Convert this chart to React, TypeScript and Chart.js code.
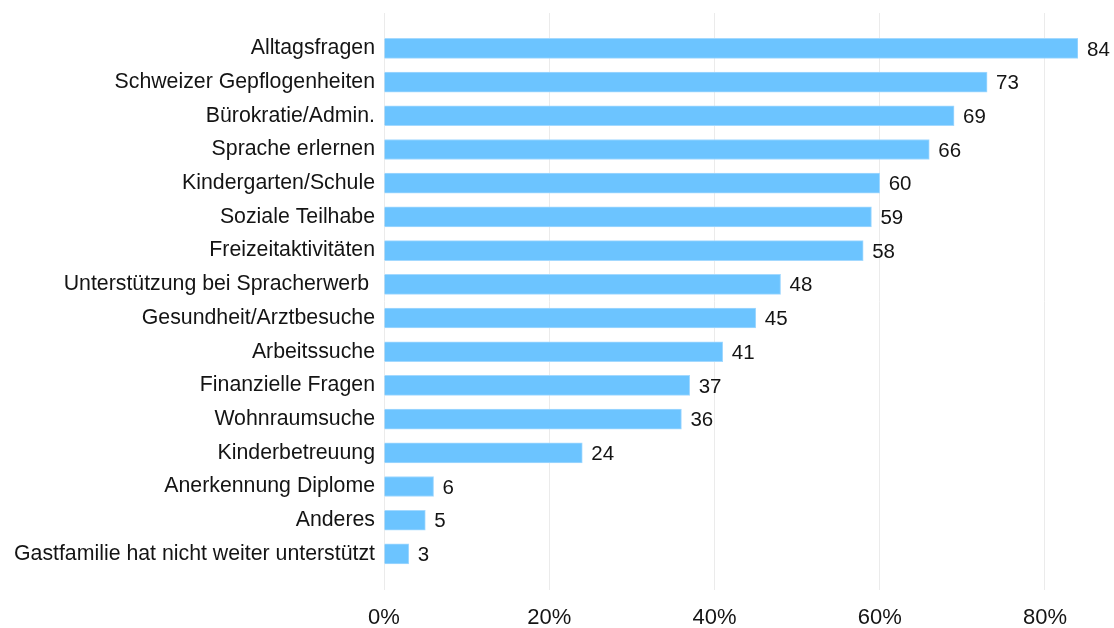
import React, { useEffect, useRef } from "react";
import { Chart, registerables } from "chart.js";

Chart.register(...registerables);

const categories = [
  "Alltagsfragen",
  "Schweizer Gepflogenheiten",
  "Bürokratie/Admin.",
  "Sprache erlernen",
  "Kindergarten/Schule",
  "Soziale Teilhabe",
  "Freizeitaktivitäten",
  "Unterstützung bei Spracherwerb ",
  "Gesundheit/Arztbesuche",
  "Arbeitssuche",
  "Finanzielle Fragen",
  "Wohnraumsuche",
  "Kinderbetreuung",
  "Anerkennung Diplome",
  "Anderes",
  "Gastfamilie hat nicht weiter unterstützt",
];

const values = [84, 73, 69, 66, 60, 59, 58, 48, 45, 41, 37, 36, 24, 6, 5, 3];

const xTickValues = [0, 20, 40, 60, 80];

const FONT = "'Liberation Sans', Arial, sans-serif";
const TEXT = "#141414";

const valueLabels = {
  id: "valueLabels",
  afterDatasetsDraw(chart: any) {
    const ctx = chart.ctx;
    const meta = chart.getDatasetMeta(0);
    ctx.save();
    ctx.font = `20.5px ${FONT}`;
    ctx.fillStyle = TEXT;
    ctx.textAlign = "left";
    ctx.textBaseline = "middle";
    meta.data.forEach((el: any, i: number) => {
      ctx.fillText(String(values[i]), el.x + 9, el.y + 1.5);
    });
    ctx.restore();
  },
};

export default function App() {
  const ref = useRef<HTMLCanvasElement | null>(null);

  useEffect(() => {
    if (!ref.current) return;
    const chart = new Chart(ref.current, {
      type: "bar",
      data: {
        datasets: [
          {
            data: values.map((v, i) => ({ x: v, y: i })),
            backgroundColor: "#6cc4ff",
            borderColor: "#a3d9ff",
            borderWidth: 1,
            barThickness: 20,
          } as any,
        ],
      },
      options: {
        indexAxis: "y",
        animation: false,
        responsive: true,
        maintainAspectRatio: false,
        layout: { padding: { top: 13, right: 36, bottom: 0, left: 0 } },
        plugins: {
          legend: { display: false },
          tooltip: { enabled: false },
        },
        scales: {
          x: {
            type: "linear",
            min: 0,
            max: 84,
            bounds: "data",
            offset: false,
            afterBuildTicks: (scale: any) => {
              scale.ticks = xTickValues.map((v) => ({ value: v }));
            },
            afterFit: (scale: any) => {
              scale.height = 38;
            },
            ticks: {
              callback: (v: any) => v + "%",
              font: { size: 22, family: FONT },
              color: TEXT,
              padding: 15,
              maxRotation: 0,
              includeBounds: false,
            },
            grid: { color: "#ebebeb", lineWidth: 1, drawTicks: false, offset: false },
            border: { display: false },
          },
          y: {
            type: "linear",
            reverse: true,
            min: -1.05,
            max: 16.07,
            bounds: "data",
            offset: false,
            afterBuildTicks: (scale: any) => {
              scale.ticks = categories.map((_, i) => ({ value: i }));
            },
            afterFit: (scale: any) => {
              scale.width = 384;
              scale.paddingTop = 0;
              scale.paddingBottom = 0;
            },
            ticks: {
              callback: (v: any) => categories[v] ?? "",
              font: { size: 21.3, family: FONT },
              color: TEXT,
              padding: 9,
              autoSkip: false,
              includeBounds: false,
            },
            grid: { display: false, drawTicks: false, offset: false },
            border: { display: false },
          },
        },
      },
      plugins: [valueLabels],
    } as any);
    return () => chart.destroy();
  }, []);

  return (
    <div
      style={{
        position: "fixed",
        left: 0,
        top: 0,
        width: 1114,
        height: 628,
        background: "#fff",
      }}
    >
      <canvas ref={ref} />
    </div>
  );
}
